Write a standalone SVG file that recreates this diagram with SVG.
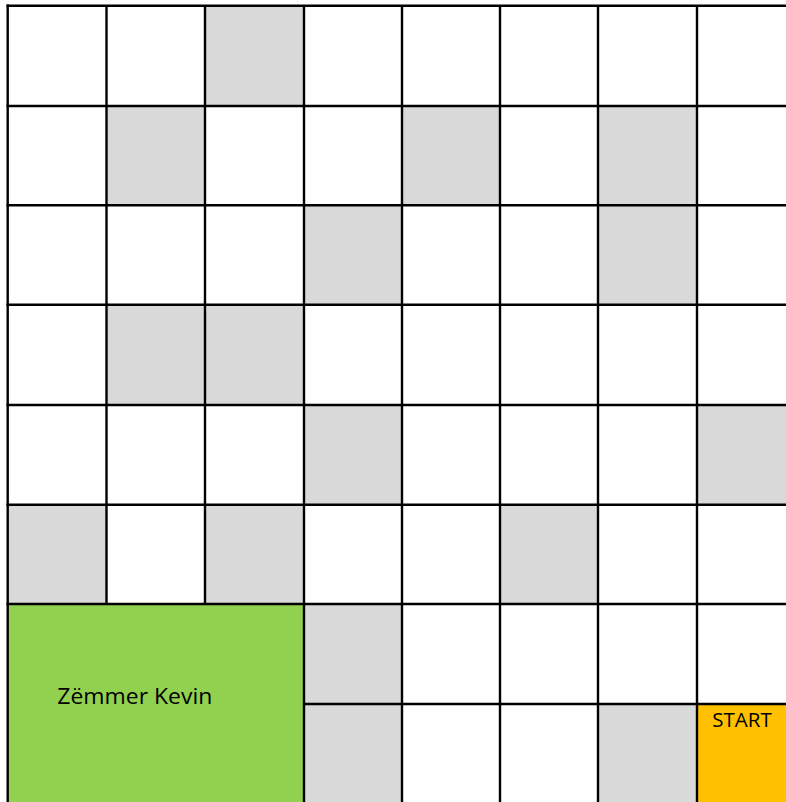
<svg xmlns="http://www.w3.org/2000/svg" width="786" height="802" viewBox="0 0 786 802">
<style>
.g{fill:#D9D9D9}
.ln{stroke:#000000;stroke-width:2.4;fill:none}
.t{font-family:"Open Sans","Liberation Sans",Arial,sans-serif;fill:#000000}
</style>
<rect x="0" y="0" width="786" height="802" fill="#FFFFFF"/>
<g id="gray-cells">
<rect class="g" x="205" y="5.7" width="99" height="100.3"/>
<rect class="g" x="106.5" y="106" width="98.5" height="99.3"/>
<rect class="g" x="402" y="106" width="98" height="99.3"/>
<rect class="g" x="598" y="106" width="99" height="99.3"/>
<rect class="g" x="304" y="205.3" width="98" height="99.4"/>
<rect class="g" x="598" y="205.3" width="99" height="99.4"/>
<rect class="g" x="106.5" y="304.7" width="98.5" height="100.3"/>
<rect class="g" x="205" y="304.7" width="99" height="100.3"/>
<rect class="g" x="304" y="405" width="98" height="99.7"/>
<rect class="g" x="697" y="405" width="89" height="99.7"/>
<rect class="g" x="7.7" y="504.7" width="98.8" height="99.3"/>
<rect class="g" x="205" y="504.7" width="99" height="99.3"/>
<rect class="g" x="500" y="504.7" width="98" height="99.3"/>
<rect class="g" x="304" y="604" width="98" height="100"/>
<rect class="g" x="304" y="704" width="98" height="98"/>
<rect class="g" x="598" y="704" width="99" height="98"/>
</g>
<g id="kevin">
<rect x="7.7" y="604" width="296.3" height="198" fill="#92D050"/>
<text class="t" x="57.3" y="704" font-size="22.5" textLength="155" lengthAdjust="spacingAndGlyphs">Zëmmer Kevin</text>
</g>
<g id="start">
<rect x="697" y="704" width="89" height="98" fill="#FFC000"/>
<text class="t" x="712.3" y="727.3" font-size="19.5" textLength="59.5" lengthAdjust="spacingAndGlyphs">START</text>
</g>
<g id="grid-lines" class="ln">
<line x1="7.7" y1="4.5" x2="7.7" y2="802"/>
<line x1="106.5" y1="5.7" x2="106.5" y2="604"/>
<line x1="205" y1="5.7" x2="205" y2="604"/>
<line x1="304" y1="5.7" x2="304" y2="802"/>
<line x1="402" y1="5.7" x2="402" y2="802"/>
<line x1="500" y1="5.7" x2="500" y2="802"/>
<line x1="598" y1="5.7" x2="598" y2="802"/>
<line x1="697" y1="5.7" x2="697" y2="802"/>
<line x1="6.5" y1="5.7" x2="786" y2="5.7"/>
<line x1="6.5" y1="106" x2="786" y2="106"/>
<line x1="6.5" y1="205.3" x2="786" y2="205.3"/>
<line x1="6.5" y1="304.7" x2="786" y2="304.7"/>
<line x1="6.5" y1="405" x2="786" y2="405"/>
<line x1="6.5" y1="504.7" x2="786" y2="504.7"/>
<line x1="6.5" y1="604" x2="786" y2="604"/>
<line x1="304" y1="704" x2="786" y2="704"/>
</g>
</svg>
